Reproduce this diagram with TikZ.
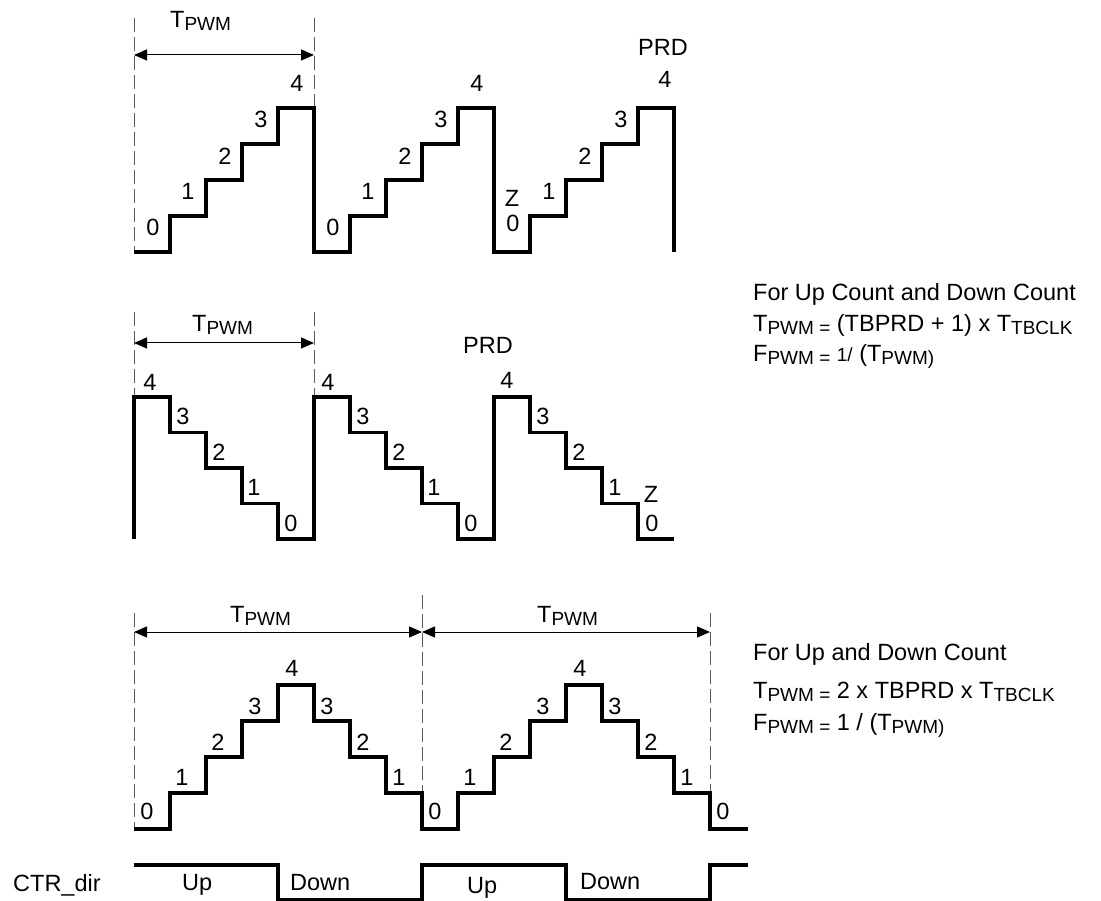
\documentclass[tikz,border=0pt]{standalone}
\usepackage{fontspec}
\setmainfont{Liberation Sans}
\usetikzlibrary{arrows.meta}
\newcommand{\sbx}[1]{\raisebox{-3pt}{\fontsize{19}{21}\selectfont #1}}
\newcommand{\smx}[1]{{\fontsize{19}{21}\selectfont #1}}
\begin{document}
\begin{tikzpicture}[x=1pt,y=-1pt,
  wave/.style={line width=3.2pt, line join=miter},
  guide/.style={line width=1pt, dash pattern=on 14pt off 5pt, black!65},
  dim/.style={line width=1pt, {Triangle[length=13pt,width=11pt]}-{Triangle[length=13pt,width=11pt]}},
  lbl/.style={inner sep=0pt, font=\fontsize{23.5}{27}\selectfont},
  txt/.style={inner sep=0pt, anchor=base west, font=\fontsize{23.5}{27}\selectfont}]
\useasboundingbox (0,0) rectangle (1101,901);

% ---------------- Panel 1: up count ----------------
\coordinate (g1a) at (134,18);  \coordinate (g1b) at (134,252);
\coordinate (g2a) at (314,18);  \coordinate (g2b) at (314,108);
\draw[guide] (g1a) -- (g1b);
\draw[guide] (g2a) -- (g2b);
\coordinate (d1l) at (134,55); \coordinate (d1r) at (314,55);
\draw[dim] (d1l) -- (d1r);
\node[txt] (tp1) at (170,28) {T\sbx{PWM}};
\draw[wave] (134,252) foreach \p in {0,1,2}{ -- ++(36,0) -- ++(0,-36) -- ++(36,0) -- ++(0,-36) -- ++(36,0) -- ++(0,-36) -- ++(36,0) -- ++(0,-36) -- ++(36,0) -- ++(0,144)};
\foreach \p in {0,1}{
  \node[lbl] (ua\p) at ({153+180*\p},227) {0};
  \node[lbl] (ub\p) at ({188+180*\p},191) {1};
  \node[lbl] (uc\p) at ({225+180*\p},156) {2};
  \node[lbl] (ud\p) at ({261+180*\p},119) {3};
  \node[lbl] (ue\p) at ({297+180*\p},83) {4};
}
\node[lbl] (ua2) at (513,223) {0};
\node[lbl] (uz2) at (512,198) {Z};
\node[lbl] (ub2) at (549,191) {1};
\node[lbl] (uc2) at (585,156) {2};
\node[lbl] (ud2) at (621,119) {3};
\node[lbl] (ue2) at (665,79) {4};
\node[lbl] (uprd) at (663,47) {PRD};

% ---------------- Panel 2: down count ----------------
\coordinate (g3a) at (134,312); \coordinate (g3b) at (134,397);
\coordinate (g4a) at (314,312); \coordinate (g4b) at (314,397);
\draw[guide] (g3a) -- (g3b);
\draw[guide] (g4a) -- (g4b);
\coordinate (d2l) at (134,343); \coordinate (d2r) at (314,343);
\draw[dim] (d2l) -- (d2r);
\node[txt] (tp2) at (192,332) {T\sbx{PWM}};
\draw[wave] (134,539) foreach \p in {0,1,2}{ -- ++(0,-142) -- ++(36,0) -- ++(0,35.5) -- ++(36,0) -- ++(0,35.5) -- ++(36,0) -- ++(0,35.5) -- ++(36,0) -- ++(0,35.5) -- ++(36,0)};
\foreach \p in {0,1}{
  \node[lbl] (de\p) at ({150+178*\p},382) {4};
  \node[lbl] (dd\p) at ({183+180*\p},416) {3};
  \node[lbl] (dc\p) at ({219+180*\p},452) {2};
  \node[lbl] (db\p) at ({254+180*\p},487) {1};
  \node[lbl] (da\p) at ({291+180*\p},523) {0};
}
\node[lbl] (de2) at (507,380) {4};
\node[lbl] (dd2) at (543,416) {3};
\node[lbl] (dc2) at (579,452) {2};
\node[lbl] (db2) at (615,487) {1};
\node[lbl] (dz2) at (651,494) {Z};
\node[lbl] (da2) at (652,523) {0};
\node[lbl] (dprd) at (488,345) {PRD};

% ---------------- Right formulas, block 1 ----------------
\node[txt] (f1a) at (753,301) {For Up Count and Down Count};
\node[txt] (f1b) at (753,332) {T\sbx{PWM =} (TBPRD + 1) x T\sbx{TBCLK}};
\node[txt] (f1c) at (753,362) {F\sbx{PWM =} \smx{1/} (T\sbx{PWM)}};

% ---------------- Panel 3: up-down count ----------------
\coordinate (g5a) at (134,613); \coordinate (g5b) at (134,829);
\coordinate (g6a) at (422,595); \coordinate (g6b) at (422,829);
\coordinate (g7a) at (710,613); \coordinate (g7b) at (710,829);
\draw[guide] (g5a) -- (g5b);
\draw[guide] (g6a) -- (g6b);
\draw[guide] (g7a) -- (g7b);
\coordinate (d3l) at (134,632); \coordinate (d3m) at (422,632); \coordinate (d3r) at (710,632);
\draw[dim] (d3l) -- (d3m);
\draw[dim] (d3m) -- (d3r);
\node[txt] (tp3) at (230,622) {T\sbx{PWM}};
\node[txt] (tp4) at (537,622) {T\sbx{PWM}};
\draw[wave] (134,829) foreach \p in {0,1}{ -- ++(36,0) -- ++(0,-36) -- ++(36,0) -- ++(0,-36) -- ++(36,0) -- ++(0,-36) -- ++(36,0) -- ++(0,-36) -- ++(36,0) -- ++(0,36) -- ++(36,0) -- ++(0,36) -- ++(36,0) -- ++(0,36) -- ++(36,0) -- ++(0,36)} -- ++(38,0);
\foreach \p in {0,1}{
  \node[lbl] (ta\p) at ({147+288*\p},811) {0};
  \node[lbl] (tb\p) at ({182+288*\p},777) {1};
  \node[lbl] (tc\p) at ({218+288*\p},742) {2};
  \node[lbl] (td\p) at ({255+288*\p},706) {3};
  \node[lbl] (te\p) at ({292+288*\p},668) {4};
  \node[lbl] (tf\p) at ({327+288*\p},706) {3};
  \node[lbl] (tg\p) at ({363+288*\p},742) {2};
  \node[lbl] (th\p) at ({399+288*\p},777) {1};
}
\node[lbl] (tend) at (723,811) {0};

% ---------------- Right formulas, block 2 ----------------
\node[txt] (f2a) at (753,660) {For Up and Down Count};
\node[txt] (f2b) at (753,698) {T\sbx{PWM =} 2 x TBPRD x T\sbx{TBCLK}};
\node[txt] (f2c) at (753,730) {F\sbx{PWM =} 1 / (T\sbx{PWM)}};

% ---------------- CTR_dir ----------------
\node[txt] (ctr) at (13,891) {CTR\_dir};
\draw[wave] (134,865) -- (278,865) -- (278,900) -- (422,900) -- (422,865) -- (566,865) -- (566,900) -- (710,900) -- (710,865) -- (748,865);
\node[txt] (up1) at (182,890) {Up};
\node[txt] (dn1) at (290,890) {Down};
\node[txt] (up2) at (467,893) {Up};
\node[txt] (dn2) at (580,889) {Down};
\end{tikzpicture}
\end{document}
